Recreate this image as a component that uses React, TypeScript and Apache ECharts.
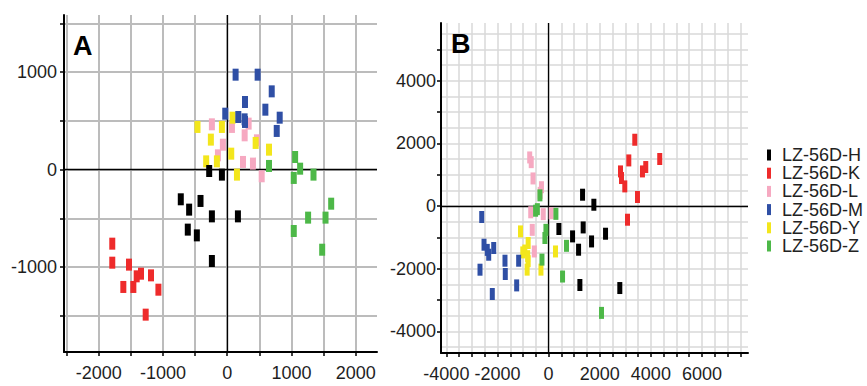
import React, { useEffect, useRef } from "react";
import * as echarts from "echarts";

const seriesNames = ["LZ-56D-H", "LZ-56D-K", "LZ-56D-L", "LZ-56D-M", "LZ-56D-Y", "LZ-56D-Z"];
const seriesColors = ["#000000", "#ee2b2b", "#f6a9c1", "#2f4fa5", "#f3e61c", "#4db848"];

// Panel A
const hA = [[-281, -14], [-83, -51], [-723, -304], [-416, -321], [-593, -410], [-239, -479], [166, -479], [-614, -615], [-473, -674], [-239, -937]];
const kA = [[-1789, -759], [-1789, -954], [-1529, -974], [-1342, -1067], [-1409, -1094], [-1186, -1084], [-1617, -1203], [-1461, -1203], [-1071, -1231], [-1269, -1487]];
const lA = [[-239, 465], [73, 438], [271, 352], [333, 472], [462, 301], [-68, 256], [-145, 147], [245, 79], [400, 62], [536, -68]];
const mA = [[130, 974], [473, 974], [692, 803], [276, 694], [593, 615], [-31, 574], [172, 540], [270, 516], [276, 489], [816, 533], [770, 397]];
const yA = [[-463, 438], [-83, 438], [83, 533], [-255, 308], [442, 274], [650, 205], [62, 164], [-328, 85], [-161, 85], [151, -51]];
const zA = [[1056, 130], [1134, 10], [1035, -85], [1342, -51], [650, 38], [1617, -349], [1258, -492], [1529, -492], [1035, -629], [1477, -821]];

// Panel B
const hB = [[1328, 361], [1770, 41], [402, -734], [937, -969], [1352, -683], [1680, -1130], [2227, -884], [1172, -1394], [1223, -2521], [2785, -2617]];
const kB = [[3371, 2115], [3137, 1455], [2812, 1104], [2851, 893], [2980, 626], [3476, 287], [3086, -437], [3671, 1104], [3800, 1244], [4347, 1500]];
const lB = [[-740, 1550], [-680, 1400], [-610, 880], [-280, 600], [-330, 420], [-700, -200], [-210, -260], [100, -230], [-640, -760], [-560, -1450]];
const mB = [[-2617, -351], [-2527, -1235], [-2344, -1554], [-2148, -1340], [-2400, -1400], [-2684, -2032], [-1707, -1745], [-1695, -2170], [-1172, -1745], [-1250, -2533], [-2203, -2808]];
const yB = [[-1100, -810], [-800, -1180], [-930, -1420], [-1010, -1480], [-820, -1600], [-800, -1760], [-840, -2030], [-300, -2030], [270, -1450]];
const zB = [[-340, 340], [-510, -150], [-440, -100], [285, -250], [-105, -760], [-145, -1020], [700, -1270], [-260, -1710], [545, -2250], [2070, -3410]];

// Axis ticks / labels / grid lines
const ticksAx = [-2500, -2000, -1500, -1000, -500, 0, 500, 1000, 1500, 2000];
const labelsAx = [-2000, -1000, 0, 1000, 2000];
const ticksAy = [-1500, -1000, -500, 0, 500, 1000, 1500];
const labelsAy = [-1000, 0, 1000];
const ticksBx = [-4000, -3500, -3000, -2500, -2000, -1500, -1000, -500, 0, 500, 1000, 1500, 2000, 2500, 3000, 3500, 4000, 4500, 5000, 5500, 6000, 6500, 7000, 7500];
const labelsBx = [-4000, -2000, 0, 2000, 4000, 6000];
const ticksBy = [-4000, -3000, -2000, -1000, 0, 1000, 2000, 3000, 4000, 5000];
const labelsBy = [-4000, -2000, 0, 2000, 4000];
const gridBy = [-4500, -4000, -3500, -3000, -2500, -2000, -1500, -1000, -500, 0, 500, 1000, 1500, 2000, 2500, 3000, 3500, 4000, 4500, 5000, 5500];

const dataA = [hA, kA, lA, mA, yA, zA];
const dataB = [hB, kB, lB, mB, yB, zB];
const drawOrder = [2, 4, 0, 1, 3, 5];

const FONT = "'Liberation Sans', Arial, sans-serif";
const LABEL_COLOR = "#1e1e1e";
const GRID_COLOR = "#d8d8d8";
const GRID_COLOR_A = "#bcbcbc";

export default function App() {
  const ref = useRef<HTMLDivElement>(null);
  useEffect(() => {
    if (!ref.current) return;
    const chart = echarts.init(ref.current, null, { renderer: "svg" });
    const axisLine = () => ({ show: true, onZero: false, lineStyle: { color: "#000", width: 2 } });
    const split = (c: string, w: number) => ({ show: true, lineStyle: { color: c, width: w, opacity: 1 } });
    const lbl = (vals: number[], margin: number) => ({
      show: true,
      customValues: vals.slice(),
      margin,
      fontSize: 18,
      color: LABEL_COLOR,
      fontFamily: FONT,
      formatter: (v: number) => String(v),
    });
    const tick = (vals: number[], len: number) => ({
      show: true,
      customValues: vals.slice(),
      length: len,
      lineStyle: { color: "#000", width: 1.5 },
    });

    const zeroLine = (gi: number, yi: number) => ({
      type: "scatter",
      name: "zero" + gi,
      xAxisIndex: gi,
      yAxisIndex: yi,
      data: [],
      z: 1,
      silent: true,
      markLine: {
        silent: true,
        z: 1,
        symbol: ["none", "none"],
        label: { show: false },
        lineStyle: { color: "#000", width: 1.3, type: "solid", opacity: 1 },
        emphasis: { disabled: true },
        data: [{ xAxis: 0 }, { yAxis: 0 }],
      },
    });

    const scatters: any[] = [];
    drawOrder.forEach((i) => {
      scatters.push({
        type: "scatter",
        name: seriesNames[i],
        xAxisIndex: 0,
        yAxisIndex: 0,
        data: dataA[i],
        symbol: "rect",
        symbolSize: [6, 12],
        itemStyle: { color: seriesColors[i], opacity: 1 },
        z: 3,
      });
      scatters.push({
        type: "scatter",
        name: seriesNames[i],
        xAxisIndex: 1,
        yAxisIndex: 1,
        data: dataB[i],
        symbol: "rect",
        symbolSize: [5, 12],
        itemStyle: { color: seriesColors[i], opacity: 1 },
        z: 3,
      });
    });

    chart.setOption({
      animation: false,
      backgroundColor: "#ffffff",
      textStyle: { fontFamily: FONT },
      grid: [
        { left: 64, top: 15, width: 313, height: 337, containLabel: false },
        { left: 441, top: 23, width: 307, height: 330, containLabel: false },
      ],
      xAxis: [
        {
          gridIndex: 0, type: "value", min: -2540, max: 2330,
          axisLine: axisLine(), axisTick: tick(ticksAx, 4), axisLabel: lbl(labelsAx, 12), splitLine: split(GRID_COLOR_A, 2),
        },
        {
          gridIndex: 1, type: "value", min: -4210, max: 7800,
          axisLine: axisLine(), axisTick: tick(ticksBx, 4), axisLabel: lbl(labelsBx, 12), splitLine: split(GRID_COLOR, 1.5),
        },
      ],
      yAxis: [
        {
          gridIndex: 0, type: "value", min: -1870, max: 1586,
          axisLine: axisLine(), axisTick: tick(ticksAy, 4), axisLabel: lbl(labelsAy, 7), splitLine: split(GRID_COLOR_A, 2),
        },
        {
          gridIndex: 1, type: "value", min: -4690, max: 5840,
          axisLine: axisLine(), axisTick: tick(ticksBy, 4), axisLabel: lbl(labelsBy, 5), splitLine: { show: false },
        },
        {
          gridIndex: 1, type: "value", min: -4690, max: 5840, position: "left",
          axisLine: { show: false }, axisTick: { show: false, customValues: gridBy.slice() },
          axisLabel: { show: false }, splitLine: split(GRID_COLOR, 1.5),
        },
      ],
      legend: {
        orient: "vertical",
        left: 762,
        top: 141,
        data: seriesNames,
        icon: "rect",
        itemWidth: 4,
        itemHeight: 11,
        itemGap: 0.2,
        textStyle: { fontSize: 18, color: "#222", fontFamily: FONT, lineHeight: 18, padding: [0, 0, 0, 6] },
      },
      graphic: [
        { type: "text", left: 73, top: 32, z: 100, style: { text: "A", fontSize: 27, fontWeight: "bold", fill: "#000", fontFamily: FONT } },
        { type: "text", left: 451, top: 30, z: 100, style: { text: "B", fontSize: 27, fontWeight: "bold", fill: "#000", fontFamily: FONT } },
      ],
      series: [zeroLine(0, 0), zeroLine(1, 1), ...scatters],
    });
    return () => chart.dispose();
  }, []);
  return <div ref={ref} style={{ position: "absolute", left: 0, top: 0, width: 867, height: 386 }} />;
}
